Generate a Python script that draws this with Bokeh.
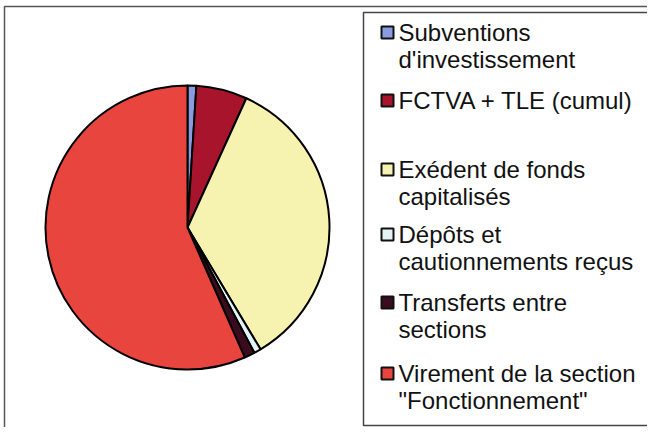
import numpy as np
from bokeh.plotting import figure
from bokeh.models import Range1d
from bokeh.core.properties import value
from bokeh.embed import file_html
from bokeh.resources import INLINE

# ---- data ----
categories = ["Subventions d'investissement", "FCTVA + TLE (cumul)", "Exédent de fonds capitalisés",
              "Dépôts et cautionnements reçus", "Transferts entre sections",
              "Virement de la section \"Fonctionnement\""]
shares = [1.0, 5.8, 34.6, 0.8, 1.2, 56.6]
colors = ["#8a9be0", "#a8142c", "#f6f3b0", "#e4f3f3", "#3b0c1e", "#e9453f"]
legend_lines = [["Subventions", "d'investissement"],
                ["FCTVA + TLE (cumul)"],
                ["Exédent de fonds", "capitalisés"],
                ["Dépôts et", "cautionnements reçus"],
                ["Transferts entre", "sections"],
                ["Virement de la section", "\"Fonctionnement\""]]

# ---- layout (page pixels) ----
W, H = 647, 427
def px(X): return X - 8
def py(Y): return H - (Y - 8)

p = figure(width=W, height=H, output_backend="svg", toolbar_location=None,
           x_axis_type=None, y_axis_type=None, min_border=0,
           x_range=Range1d(0, W), y_range=Range1d(0, H))
p.grid.visible = False
p.outline_line_color = None
p.background_fill_color = "white"
p.border_fill_color = "white"

# outer frame
p.line(x=[px(12), px(12), px(700)], y=[py(460), py(14), py(14)], line_color="#555555", line_width=1.5)

# pie
vals = np.array(shares, dtype=float)
frac = vals / vals.sum()
cum = np.concatenate([[0], np.cumsum(frac)])
start = np.pi / 2 - 2 * np.pi * cum[:-1]
end = np.pi / 2 - 2 * np.pi * cum[1:]
cx, cy, r = px(195), py(235), 142
p.wedge(x=cx, y=cy, radius=r, start_angle=start, end_angle=end, direction="clock",
        fill_color=colors, line_color="black", line_width=2)

# legend box
p.quad(left=px(371), right=px(700), top=py(20), bottom=py(433),
       fill_color="white", line_color="#444444", line_width=1.5)

first_y = [40, 108, 177, 242, 310, 381]
second_dy = 27
tx, ty, tt = [], [], []
mx, my = [], []
for lines, y0 in zip(legend_lines, first_y):
    mx.append(px(395))
    my.append(py(y0))
    for k, t in enumerate(lines):
        tx.append(px(406)); ty.append(py(y0 + k * second_dy)); tt.append(t)

p.rect(x=mx, y=my, width=12, height=12, fill_color=colors, line_color="#111111", line_width=2)
p.text(x=tx, y=ty, text=tt, text_font=value("Liberation Sans"), text_font_size="24px",
       text_baseline="middle", text_align="left", text_color="#111111")

open("out.html", "w").write(file_html(p, INLINE))
